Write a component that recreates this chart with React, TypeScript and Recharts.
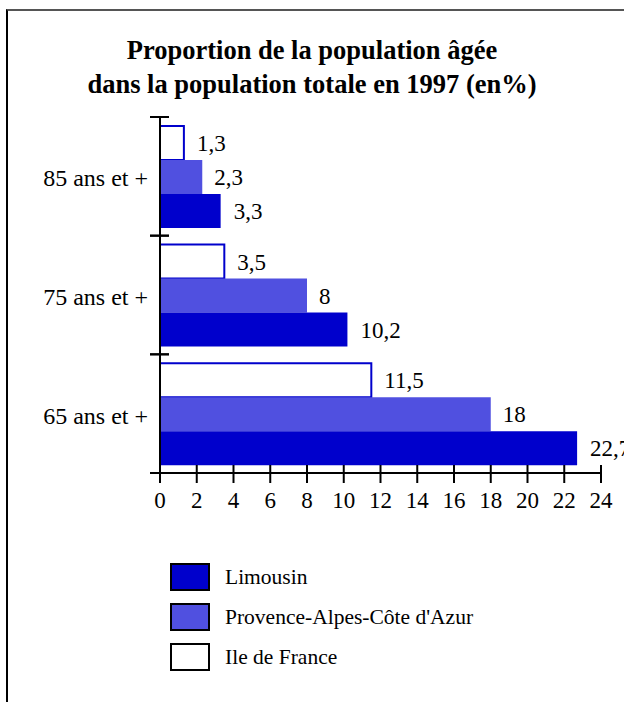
import React from 'react';
import { BarChart, Bar, XAxis, YAxis, LabelList, Legend } from 'recharts';

const categories = ['85 ans et +', '75 ans et +', '65 ans et +'];
const limousin = [3.3, 10.2, 22.7];
const paca = [2.3, 8, 18];
const ileDeFrance = [1.3, 3.5, 11.5];
const xTicks = [0, 2, 4, 6, 8, 10, 12, 14, 16, 18, 20, 22, 24];

const seriesNames = ['Limousin', "Provence-Alpes-Côte d'Azur", 'Ile de France'];
const titleLines = ['Proportion de la population âgée', 'dans la population totale en 1997 (en%)'];

const data = categories.map((c, i) => ({
  cat: c,
  lim: limousin[i],
  paca: paca[i],
  idf: ileDeFrance[i],
}));

const FONT = "'Liberation Serif', 'Times New Roman', serif";
const C_LIM = '#0000CC';
const C_PACA = '#5050E0';

const fmt = (v: any) => String(v).replace('.', ',');

const YTick = (props: any) => {
  const { x, y, payload } = props;
  const off = payload && typeof payload.offset === 'number' && payload.offset > 0 ? payload.offset : 59.33;
  return (
    <g>
      <line x1={x - 10} x2={x + 9} y1={y - off} y2={y - off} stroke="#000" strokeWidth={2} />
      <line x1={x - 10} x2={x + 9} y1={y + off} y2={y + off} stroke="#000" strokeWidth={2} />
      <text x={x - 12} y={y + 10} textAnchor="end" fontFamily={FONT} fontSize={24} fill="#000">
        {payload.value}
      </text>
    </g>
  );
};

const XTick = (props: any) => {
  const { x, y, payload } = props;
  return (
    <g>
      <line x1={x} x2={x} y1={y - 8} y2={y + 10} stroke="#000" strokeWidth={2} />
      <text x={x} y={y + 35} textAnchor="middle" fontFamily={FONT} fontSize={23} fill="#000">
        {payload.value}
      </text>
    </g>
  );
};

const legendFills = [C_LIM, C_PACA, '#FFFFFF'];

const LegendContent = () => (
  <div style={{ fontFamily: FONT }}>
    {seriesNames.map((n, i) => (
      <div key={n} style={{ display: 'flex', alignItems: 'center', height: 40 }}>
        <div
          style={{
            width: 36,
            height: 24,
            background: legendFills[i],
            border: '2px solid #000',
            marginRight: 15,
          }}
        />
        <span style={{ fontSize: 21.5, color: '#000' }}>{n}</span>
      </div>
    ))}
  </div>
);

export default function App() {
  return (
    <div
      style={{
        position: 'fixed',
        left: 0,
        top: 0,
        width: 624,
        height: 702,
        overflow: 'hidden',
        background: '#fff',
      }}
    >
      <div
        style={{
          position: 'absolute',
          left: 6,
          top: 9,
          width: 800,
          height: 900,
          borderTop: '2px solid #555',
          borderLeft: '2px solid #000',
        }}
      />
      <div
        style={{
          position: 'absolute',
          left: 0,
          top: 33,
          width: 624,
          textAlign: 'center',
          fontFamily: FONT,
          fontWeight: 'bold',
          fontSize: 26.5,
          lineHeight: '34px',
          color: '#000',
        }}
      >
        <div>{titleLines[0]}</div>
        <div>{titleLines[1]}</div>
      </div>
      <div style={{ position: 'absolute', left: 0, top: 0 }}>
        <BarChart
          width={624}
          height={702}
          data={data}
          layout="vertical"
          margin={{ top: 117, right: 23, bottom: 189, left: 10 }}
          barGap={0}
          barCategoryGap="7.5%"
        >
          <XAxis
            type="number"
            domain={[0, 24]}
            ticks={xTicks}
            interval={0}
            height={40}
            tickSize={0}
            tickMargin={0}
            tickLine={false}
            axisLine={{ stroke: '#000', strokeWidth: 2 }}
            tick={<XTick />}
          />
          <YAxis
            type="category"
            dataKey="cat"
            width={150}
            tickSize={0}
            tickMargin={0}
            tickLine={false}
            axisLine={{ stroke: '#000', strokeWidth: 2 }}
            tick={<YTick />}
            interval={0}
          />
          <Legend
            layout="vertical"
            align="center"
            verticalAlign="middle"
            content={<LegendContent />}
            wrapperStyle={{ position: 'absolute', left: 170, top: 557, width: 360 }}
          />
          <Bar dataKey="idf" name={seriesNames[2]} fill="#FFFFFF" stroke={C_LIM} strokeWidth={2} isAnimationActive={false}>
            <LabelList dataKey="idf" position="right" offset={13} formatter={fmt} fill="#000" fontFamily={FONT} fontSize={23} />
          </Bar>
          <Bar dataKey="paca" name={seriesNames[1]} fill={C_PACA} isAnimationActive={false}>
            <LabelList dataKey="paca" position="right" offset={12} formatter={fmt} fill="#000" fontFamily={FONT} fontSize={23} />
          </Bar>
          <Bar dataKey="lim" name={seriesNames[0]} fill={C_LIM} isAnimationActive={false}>
            <LabelList dataKey="lim" position="right" offset={13} formatter={fmt} fill="#000" fontFamily={FONT} fontSize={23} />
          </Bar>
        </BarChart>
      </div>
    </div>
  );
}
